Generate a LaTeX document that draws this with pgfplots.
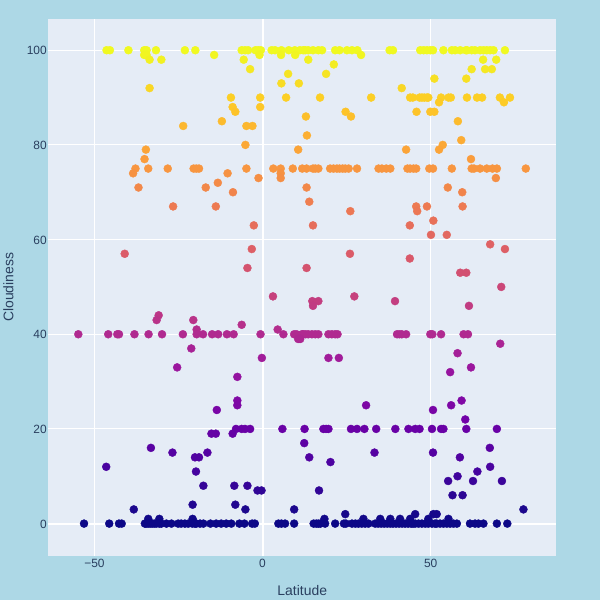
\documentclass[border=0pt]{standalone}
\usepackage{pgfplots}
\usepackage{pgfplotstable}
\pgfplotsset{compat=1.18}
\usepackage{fontspec}
\setmainfont{Liberation Sans}
\definecolor{bgout}{HTML}{ADD8E6}
\definecolor{bgin}{HTML}{E5ECF6}
\definecolor{fontcol}{HTML}{2A3F5F}
\pgfplotstableread{
x y
-46.4 100
-45.4 100
-39.9 100
-35.2 100
-34.5 100
-31.7 100
-23.1 100
-20.0 100
-6.2 100
-5.2 100
-4.3 100
-2.1 100
-1.3 100
-0.5 100
2.7 100
3.7 100
5.6 100
7.8 100
9.6 100
11.1 100
12.1 100
13.6 100
12.7 100
15.0 100
16.6 100
17.7 100
21.6 100
22.9 100
25.1 100
26.6 100
28.2 100
37.8 100
38.8 100
46.9 100
47.9 100
48.9 100
49.9 100
50.7 100
53.8 100
56.3 100
57.3 100
58.8 100
60.5 100
60.8 100
62.2 100
63.2 100
64.7 100
65.7 100
66.7 100
67.7 100
68.7 100
72.1 100
-35.2 99
-34.5 99
-14.4 99
-0.9 99
5.5 99
9.7 99
29.3 99
-33.6 98
-30.1 98
-5.6 98
13.6 98
65.6 98
69.5 98
21.2 97
-3.7 96
62.2 96
66.2 96
68.2 96
7.6 95
18.9 95
51.1 94
60.6 94
5.6 93
10.8 93
-33.6 92
41.4 92
-9.4 90
-0.7 90
7.0 90
17.1 90
32.3 90
43.9 90
44.7 90
46.7 90
47.4 90
48.1 90
48.9 90
49.3 90
53.1 90
55.3 90
56.0 90
60.8 90
63.8 90
65.3 90
70.6 90
73.6 90
52.5 89
71.8 89
-8.9 88
-0.7 88
-8.1 87
24.7 87
45.8 87
49.9 87
51.1 87
12.9 86
26.3 86
-12.1 85
58.1 85
-23.6 84
-4.8 84
-3.0 84
13.2 82
59.1 81
-5.1 80
53.6 80
-34.7 79
10.6 79
42.7 79
52.5 79
-35.1 77
62.0 77
-37.8 75
-34.0 75
-28.2 75
-20.5 75
-19.7 75
-18.9 75
-4.8 75
3.2 75
5.4 75
9.0 75
11.8 75
13.1 75
15.0 75
15.7 75
16.6 75
20.1 75
21.1 75
22.1 75
22.9 75
23.8 75
24.6 75
25.6 75
28.1 75
34.5 75
35.5 75
36.8 75
38.0 75
43.1 75
43.9 75
44.9 75
45.7 75
49.6 75
50.7 75
56.3 75
62.2 75
62.9 75
64.7 75
66.7 75
68.4 75
69.7 75
78.3 75
-38.5 74
-10.4 74
5.4 74
5.4 73
-1.2 73
69.4 73
-13.3 72
-36.9 71
-16.9 71
13.1 71
55.1 71
-8.8 70
59.4 70
13.9 68
-26.6 67
-13.9 67
45.7 67
48.9 67
59.5 67
26.1 66
46.0 66
50.8 64
-2.6 63
15.0 63
43.8 63
50.1 61
54.8 61
67.7 59
-3.2 58
72.1 58
-41.0 57
26.0 57
43.8 56
-4.5 54
13.1 54
58.8 53
60.6 53
71.0 50
3.1 48
27.3 48
14.8 47
16.6 47
39.4 47
15.0 46
61.4 46
-30.9 44
-31.5 43
-20.6 43
-6.2 42
-19.6 41
4.5 41
-54.8 40
-45.9 40
-43.2 40
-42.7 40
-38.1 40
-33.9 40
-29.9 40
-23.7 40
-19.6 40
-17.7 40
-15.0 40
-13.2 40
-10.6 40
-8.6 40
-0.6 40
6.2 40
9.4 40
10.1 40
12.1 40
12.8 40
13.6 40
11.7 40
14.7 40
15.7 40
16.6 40
19.6 40
20.6 40
21.6 40
22.3 40
40.0 40
40.7 40
41.4 40
42.7 40
49.9 40
50.5 40
53.1 40
59.8 40
61.1 40
10.6 39
11.2 39
70.7 38
-21.2 37
58.0 36
-0.2 35
19.6 35
22.7 35
-25.4 33
62.0 33
55.8 32
-7.5 31
-7.5 26
59.2 26
-7.5 25
30.8 25
56.1 25
-13.6 24
50.7 24
60.3 22
-7.9 20
-6.2 20
-5.2 20
-3.7 20
5.9 20
12.5 20
18.1 20
18.9 20
19.6 20
26.3 20
28.1 20
30.3 20
33.8 20
39.5 20
43.4 20
45.4 20
46.7 20
50.4 20
53.1 20
53.8 20
60.6 20
69.7 20
-15.2 19
-13.9 19
-8.9 19
12.4 17
-33.2 16
67.6 16
-26.8 15
-16.4 15
33.3 15
50.7 15
-20.1 14
-18.9 14
13.9 14
58.7 14
20.2 13
-46.5 12
67.7 12
-19.8 11
63.9 11
58.0 10
55.2 9
62.6 9
71.2 9
-17.6 8
-8.4 8
-4.5 8
-1.5 7
-0.3 7
16.8 7
56.5 6
59.5 6
-20.8 4
-8.1 4
-38.3 3
-5.1 3
9.4 3
77.6 3
24.6 2
45.4 2
50.8 2
51.8 2
-34.0 1
-30.7 1
-20.8 1
18.4 1
30.0 1
49.3 1
55.3 1
35.0 1
38.0 1
40.9 1
43.9 1
-53.1 0
-45.6 0
-42.7 0
-41.9 0
-35.0 0
-34.6 0
-34.0 0
-33.4 0
-32.8 0
-32.2 0
-31.6 0
-30.7 0
-30.1 0
-28.6 0
-27.1 0
-25.1 0
-24.2 0
-23.1 0
-22.1 0
-20.9 0
-20.1 0
-19.7 0
-18.6 0
-17.6 0
-15.5 0
-13.8 0
-12.3 0
-10.8 0
-9.3 0
-6.9 0
-5.4 0
-3.1 0
-2.3 0
4.7 0
5.6 0
6.7 0
9.4 0
15.2 0
16.0 0
16.6 0
17.2 0
18.6 0
21.6 0
24.2 0
24.8 0
26.6 0
27.6 0
28.5 0
29.5 0
30.5 0
31.5 0
33.5 0
34.4 0
35.3 0
36.2 0
37.1 0
38.0 0
38.8 0
39.7 0
40.6 0
41.5 0
42.4 0
43.3 0
44.2 0
44.8 0
45.4 0
46.4 0
47.4 0
48.4 0
49.3 0
50.4 0
51.3 0
51.8 0
52.8 0
53.8 0
54.8 0
55.8 0
56.8 0
57.8 0
61.7 0
63.2 0
64.2 0
65.7 0
69.7 0
72.8 0
}\data
\begin{document}
\begin{tikzpicture}
\fill[bgout] (-48bp,-44bp) rectangle (552bp,556bp);
\begin{axis}[
  at={(0,0)}, anchor=south west,
  scale only axis, width=508bp, height=537bp,
  xmin=-63.7, xmax=87.3, ymin=-6.76, ymax=106.6,
  axis background/.style={fill=bgin},
  axis line style={draw=none},
  tick style={draw=none},
  grid=major,
  major grid style={white, line width=1bp},
  xtick={-50,0,50}, xticklabels={−50,0,50},
  ytick={0,20,40,60,80,100},
  extra x ticks={0}, extra y ticks={0},
  extra x tick labels={}, extra y tick labels={},
  extra tick style={grid=major, major grid style={white, line width=2bp}},
  tick label style={font=\fontsize{12}{14}\selectfont, text=fontcol},
  yticklabel style={inner sep=1.5bp, yshift=-0.5bp},
  xticklabel style={inner sep=3bp},
  /pgf/number format/assume math mode=true,
  xlabel={Latitude}, ylabel={Cloudiness},
  label style={font=\fontsize{14}{16}\selectfont, text=fontcol},
  xlabel style={at={(axis description cs:0.5,-0.0652)}, anchor=center},
  ylabel style={at={(axis description cs:-0.0787,0.5)}, anchor=center, rotate=0},
  colormap={plasma}{rgb255=(13,8,135) rgb255=(70,3,159) rgb255=(114,1,168) rgb255=(156,23,158) rgb255=(189,55,134) rgb255=(216,87,107) rgb255=(237,121,83) rgb255=(251,159,58) rgb255=(253,202,38) rgb255=(240,249,33)},
  point meta min=0, point meta max=100,
  clip=true,
]
\addplot[scatter, only marks, mark=*, mark size=4bp,
  scatter/use mapped color={draw=mapped color, fill=mapped color},
  point meta=\thisrow{y}] table[x=x,y=y] {\data};
\end{axis}
\end{tikzpicture}
\end{document}
